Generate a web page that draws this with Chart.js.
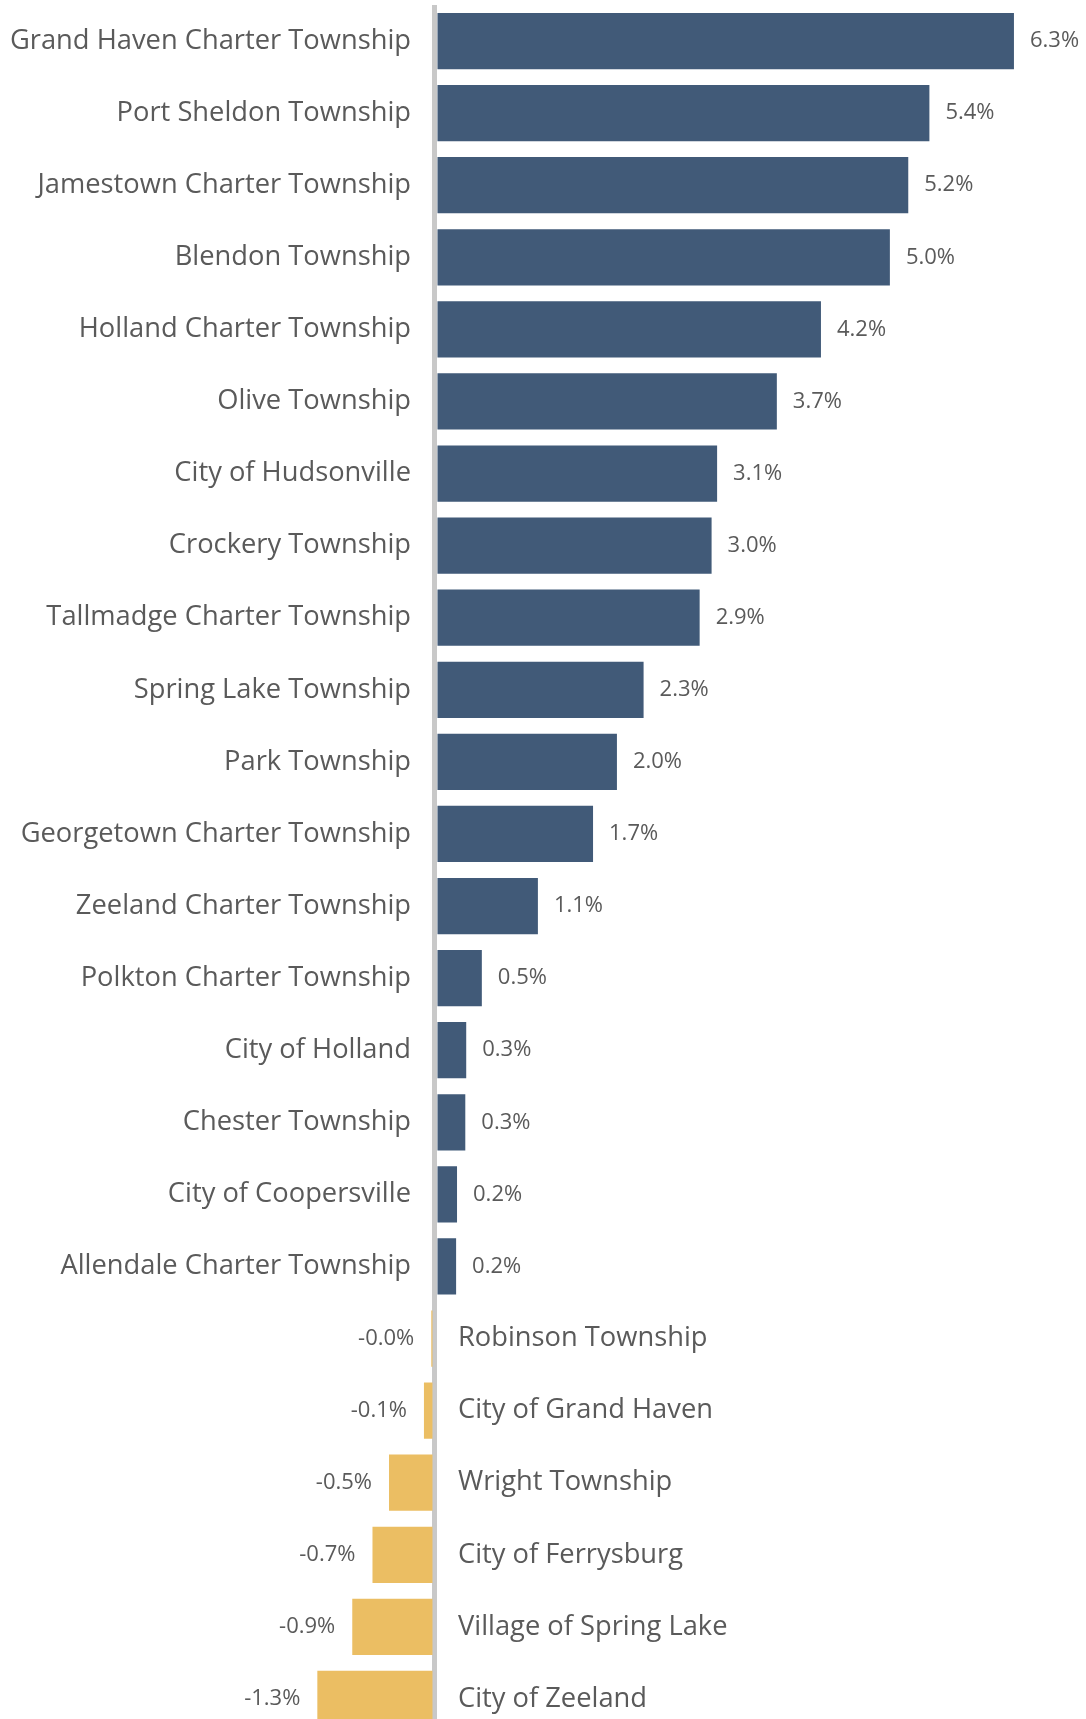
<!DOCTYPE html>
<html>
<head>
<meta charset="utf-8">
<script src="https://cdn.jsdelivr.net/npm/chart.js@4.4.1/dist/chart.umd.min.js"></script>
<style>
    html, body { margin: 0; padding: 0; background: #fff; overflow: hidden; }
    #wrap { width: 1086px; height: 1735px; position: relative; }
</style>
</head>
<body>
<div id="wrap"><canvas id="myChart"></canvas></div>
<script>
// percent change by municipality
const categories = [
    'Grand Haven Charter Township', 'Port Sheldon Township', 'Jamestown Charter Township',
    'Blendon Township', 'Holland Charter Township', 'Olive Township', 'City of Hudsonville',
    'Crockery Township', 'Tallmadge Charter Township', 'Spring Lake Township', 'Park Township',
    'Georgetown Charter Township', 'Zeeland Charter Township', 'Polkton Charter Township',
    'City of Holland', 'Chester Township', 'City of Coopersville', 'Allendale Charter Township',
    'Robinson Township', 'City of Grand Haven', 'Wright Township', 'City of Ferrysburg',
    'Village of Spring Lake', 'City of Zeeland'
];
const changes = [
    6.30, 5.38, 5.15, 4.95, 4.20, 3.72, 3.07, 3.01, 2.88, 2.27, 1.98, 1.72,
    1.12, 0.51, 0.34, 0.33, 0.24, 0.23, -0.04, -0.12, -0.50, -0.68, -0.90, -1.28
];
const xMin = -4.733;
const xMax = 7.084;

const posColor = '#415a78';
const negColor = '#ebbe63';
const textColor = '#5a5a5a';

const labelPlugin = {
    id: 'barLabels',
    afterDatasetsDraw(chart) {
        const ctx = chart.ctx;
        const zero = chart.scales.x.getPixelForValue(0);
        const meta = chart.getDatasetMeta(0);
        ctx.save();
        ctx.fillStyle = textColor;
        ctx.textBaseline = 'middle';
        meta.data.forEach((bar, i) => {
            const v = changes[i];
            ctx.font = '27.3px "Open Sans"';
            if (v >= 0) {
                ctx.textAlign = 'right';
                ctx.fillText(categories[i], zero - 24, bar.y);
            } else {
                ctx.textAlign = 'left';
                ctx.fillText(categories[i], zero + 23, bar.y);
            }
            ctx.font = '22px "Open Sans"';
            const txt = v.toFixed(1) + '%';
            if (v >= 0) {
                ctx.textAlign = 'left';
                ctx.fillText(txt, bar.x + 16, bar.y);
            } else {
                ctx.textAlign = 'right';
                ctx.fillText(txt, bar.x - 17, bar.y);
            }
        });
        ctx.restore();
    }
};

const ctx = document.getElementById('myChart').getContext('2d');
new Chart(ctx, {
    type: 'bar',
    data: {
        labels: categories,
        datasets: [{
            data: changes,
            backgroundColor: changes.map(v => v >= 0 ? posColor : negColor),
            barPercentage: 0.78,
            categoryPercentage: 1
        }]
    },
    options: {
        indexAxis: 'y',
        animation: false,
        responsive: true,
        maintainAspectRatio: false,
        layout: { padding: { top: 5, left: 0, right: 0, bottom: 0 } },
        scales: {
            x: {
                min: xMin,
                max: xMax,
                ticks: { display: false },
                border: { display: false },
                grid: {
                    drawTicks: false,
                    color: c => c.tick && c.tick.value === 0 ? '#c8c8c8' : 'rgba(0,0,0,0)',
                    lineWidth: c => c.tick && c.tick.value === 0 ? 5 : 0
                }
            },
            y: {
                ticks: { display: false },
                border: { display: false },
                grid: { display: false, drawTicks: false }
            }
        },
        plugins: {
            legend: { display: false },
            tooltip: { enabled: false }
        }
    },
    plugins: [labelPlugin]
});
</script>
</body>
</html>
